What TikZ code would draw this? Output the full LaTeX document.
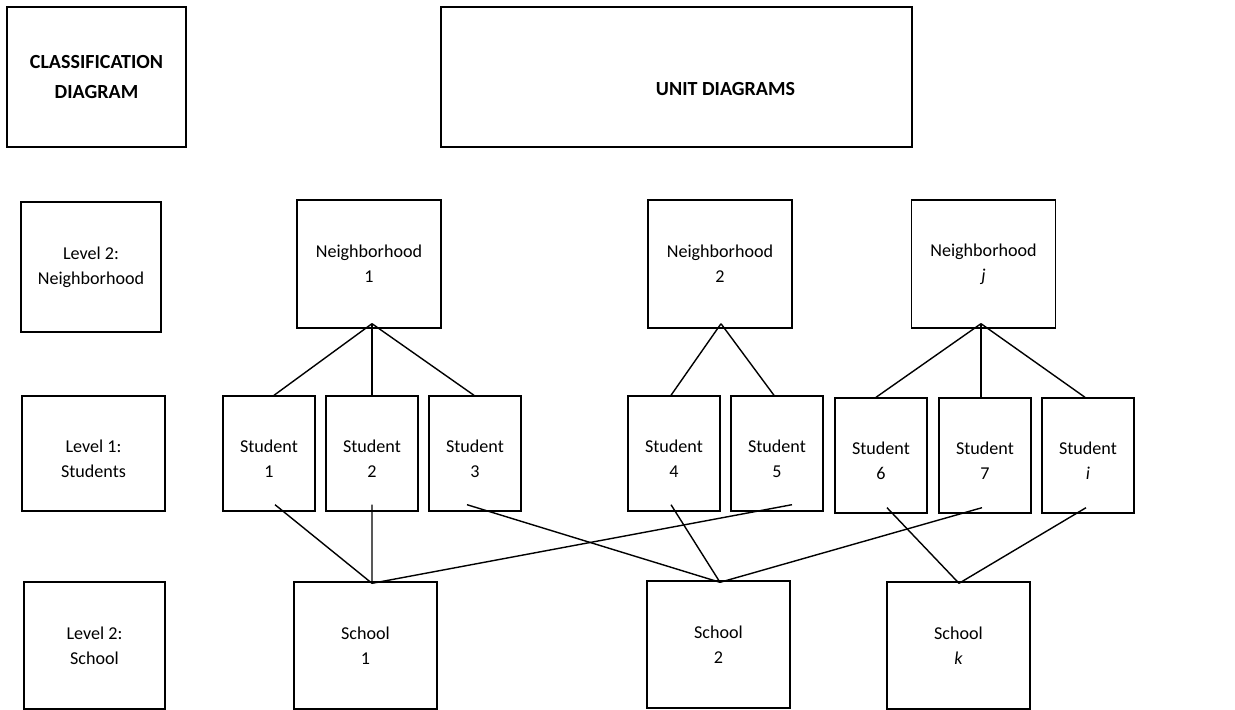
\documentclass[tikz,border=0pt]{standalone}
\usepackage{fontspec}
\setmainfont{Carlito}
\usetikzlibrary{calc}
% first line raised a little, as in the student boxes
\newcommand{\lowtext}[2]{\rule{0pt}{13pt}#1\\#2}
\begin{document}
\begin{tikzpicture}[x=0.02cm,y=-0.02cm,
  box/.style={draw,line width=0.8pt,align=center,inner sep=0pt,
    font=\fontsize{10.3}{14.2}\selectfont},
  headbox/.style={box,minimum height=2.8cm,font=\fontsize{11.4}{17}\selectfont\bfseries},
  hoodbox/.style={box,minimum width=2.88cm,minimum height=2.56cm},
  pupilbox/.style={box,minimum width=1.84cm,minimum height=2.3cm},
  schoolbox/.style={box,minimum width=2.86cm,minimum height=2.54cm},
  link/.style={line width=0.8pt}]
  \useasboundingbox (0,0) rectangle (1235,710);

  % Headings
  \node[headbox,minimum width=3.58cm] (classif) at (96.5,77) {CLASSIFICATION\\DIAGRAM};
  \node[headbox,minimum width=9.42cm] (unit) at (676.5,77) {};
  \node[font=\fontsize{11.4}{17}\selectfont\bfseries] (unitlabel) at ($(unit.center)+(49,12)$) {UNIT DIAGRAMS};

  % Classification levels
  \node[box,minimum width=2.8cm,minimum height=2.6cm] (lvlhood) at (91,267) {Level 2:\\Neighborhood};
  \node[pupilbox,minimum width=2.86cm] (lvlpupil) at (93.5,453.5) {\lowtext{Level 1:}{Students}};
  \node[box,minimum width=2.82cm,minimum height=2.54cm] (lvlschool) at (94.5,645.5) {Level 2:\\School};

  % Neighborhoods
  \node[hoodbox] (n1) at (369,264) {Neighborhood\\1};
  \node[hoodbox] (n2) at (720,264) {Neighborhood\\2};
  \node[hoodbox] (nj) at (983.5,264) {Neighborhood\\\textit{j}};

  % Students
  \node[pupilbox] (s1) at (269,453.5) {\lowtext{Student}{1}};
  \node[pupilbox] (s2) at (372,453.5) {\lowtext{Student}{2}};
  \node[pupilbox] (s3) at (475,453.5) {\lowtext{Student}{3}};
  \node[pupilbox] (s4) at (674,453.5) {\lowtext{Student}{4}};
  \node[pupilbox] (s5) at (777,453.5) {\lowtext{Student}{5}};
  \node[pupilbox] (s6) at (881,455.5) {\lowtext{Student}{6}};
  \node[pupilbox] (s7) at (985,455.5) {\lowtext{Student}{7}};
  \node[pupilbox] (si) at (1088,455.5) {\lowtext{Student}{\textit{i}}};

  % Schools
  \node[schoolbox] (sc1) at (365.5,645.5) {School\\1};
  \node[schoolbox] (sc2) at (718.5,644.5) {School\\2};
  \node[schoolbox] (sck) at (958.5,645.5) {School\\\textit{k}};

  % Hubs where the links meet
  \coordinate (n1hub) at ($(n1.south)+(3,-5)$);
  \coordinate (n2hub) at ($(n2.south)+(1,-5)$);
  \coordinate (njhub) at ($(nj.south)+(-2.5,-5)$);
  \coordinate (sc1hub) at ($(sc1.north)+(6.5,2)$);
  \coordinate (sc2hub) at ($(sc2.north)+(1.5,2)$);
  \coordinate (sckhub) at ($(sck.north)+(0.5,2)$);

  % Neighborhood membership
  \draw[link] (n1hub) -- ($(s1.north)+(5,0)$);
  \draw[link] (n1hub) -- (s2.north);
  \draw[link] (n1hub) -- ($(s3.north)+(-1,0)$);
  \draw[link] (n2hub) -- ($(s4.north)+(-3,0)$);
  \draw[link] (n2hub) -- ($(s5.north)+(-3,0)$);
  \draw[link] (njhub) -- ($(s6.north)+(-5,0)$);
  \draw[link] (njhub) -- ($(s7.north)+(-4,0)$);
  \draw[link] (njhub) -- ($(si.north)+(-3,0)$);

  % School membership
  \draw[link] ($(s1.south)+(6,-7)$) -- (sc1hub);
  \draw[link] ($(s2.south)+(0,-7)$) -- (sc1hub);
  \draw[link] ($(s5.south)+(15,-7)$) -- (sc1hub);
  \draw[link] ($(s3.south)+(-8,-7)$) -- (sc2hub);
  \draw[link] ($(s4.south)+(-3,-7)$) -- (sc2hub);
  \draw[link] ($(s7.south)+(-3,-6)$) -- (sc2hub);
  \draw[link] ($(s6.south)+(6,-6)$) -- (sckhub);
  \draw[link] ($(si.south)+(-2,-6)$) -- (sckhub);
\end{tikzpicture}
\end{document}
